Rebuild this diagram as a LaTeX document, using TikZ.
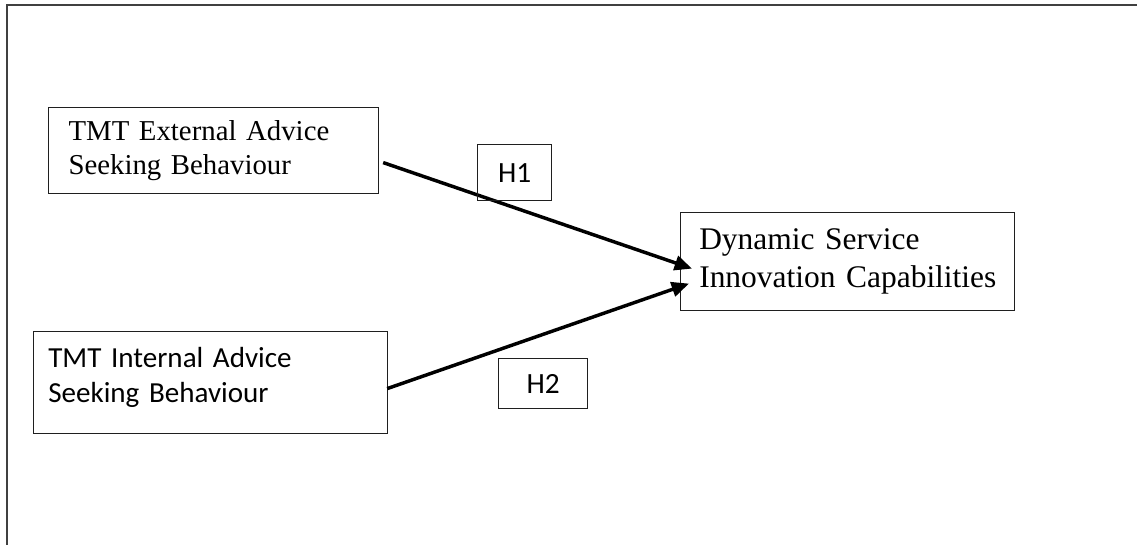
\documentclass[tikz,border=0pt]{standalone}
\usepackage{fontspec}
\setmainfont{Liberation Serif}
\newfontfamily\calibri{Carlito}
\usepackage{xcolor}
\definecolor{frame}{rgb}{0.25,0.25,0.25}
\definecolor{boxline}{rgb}{0.12,0.12,0.12}
\usepackage{tikz}
\usetikzlibrary{
	arrows.meta,
	calc,
	positioning
}
\tikzstyle{every picture}+=[>={Triangle[length=13pt,width=11pt]}]
\tikzstyle{box}=[draw=boxline, line width=0.9pt, rectangle, align=left, anchor=north west]
\tikzstyle{hyp}=[draw=boxline, line width=0.9pt, rectangle, anchor=north west, inner sep=0pt, font=\calibri\fontsize{22pt}{24pt}\selectfont]
\tikzstyle{link}=[->, line width=2.6pt, black]

\begin{document}
\begin{tikzpicture}[x=0.75pt, y=-0.75pt]
	\useasboundingbox (0,0) rectangle (1137,545);

	% Outer frame (top and left only)
		\draw[frame, line width=1.4pt] (7,545) -- (7,5) -- (1137,5);

	% Constructs
		% Boxes placed by their upper left corner
		\node[box, minimum width=247.5pt, minimum height=64.5pt, inner xsep=15pt, text width=217.5pt,
			font=\fontsize{21.6pt}{24.8pt}\selectfont] (ext) at (48,107)
			{TMT External Advice\\Seeking Behaviour};
		\node[box, minimum width=265.5pt, minimum height=76.5pt, inner xsep=11pt, text width=243.5pt,
			text depth=38pt, font=\calibri\fontsize{21.8pt}{26.2pt}\selectfont] (int) at (33,331)
			{TMT Internal Advice\\Seeking Behaviour};
		\node[box, minimum width=250.5pt, minimum height=73.5pt, inner xsep=14pt, text width=222.5pt,
			font=\fontsize{23.6pt}{28.8pt}\selectfont] (dsic) at (680,212)
			{Dynamic Service\\\mbox{Innovation Capabilities}};

	% Hypotheses
		\draw[link] ($(ext.east)+(4,12)$) -- ($(dsic.west)+(12,7)$);
		\draw[link] ($(int.east)+(-1,6)$) -- ($(dsic.west)+(9,22)$);
		\node[hyp, minimum width=55.5pt, minimum height=42pt] (h1) at (477,144) {H1};
		\node[hyp, minimum width=66.75pt, minimum height=37.5pt] (h2) at (498,358) {H2};
\end{tikzpicture}
\end{document}
